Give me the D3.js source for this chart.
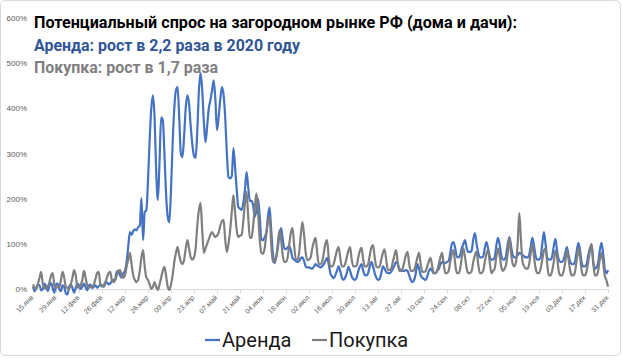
<!DOCTYPE html>
<html>
<head>
<meta charset="utf-8">
<script src="https://cdn.jsdelivr.net/npm/d3@7"></script>
<style>
  body { margin: 0; background: #fff; }
  text { font-family: Roboto, 'Noto Sans', sans-serif; }
</style>
</head>
<body>
<div id="chart"></div>
<script>
// daily values, % growth, 15 Jan .. 31 Dec (one row = one week)
const arenda = [
  5, -5, 3, 10, 8, -3, 0,
  12, 5, -5, 8, 13, 2, -8,
  10, 12, 0, -5, 8, 5, -10,
  -12, 5, 10, 3, -8, 2, 12,
  8, 0, 5, 12, 4, -3, 8,
  10, 2, 5, 8, 3, 6, 10,
  8, 5, 12, 15, 10, 12, 18,
  20, 22, 38, 40, 30, 25, 35,
  40, 60, 95, 126, 120, 128, 132,
  130, 137, 140, 201, 108, 170, 175,
  240, 330, 400, 429, 380, 260, 197,
  280, 380, 375, 300, 210, 160, 148,
  220, 323, 400, 440, 447, 380, 300,
  292, 340, 403, 429, 410, 360, 320,
  295, 290, 350, 440, 478, 440, 370,
  325, 360, 400, 418, 440, 462, 420,
  352, 380, 420, 447, 430, 380, 300,
  248, 245, 250, 312, 270, 220, 181,
  178, 175, 190, 220, 259, 225, 195,
  195, 185, 160, 175, 200, 160, 110,
  108, 115, 125, 160, 181, 130, 80,
  57, 70, 90, 120, 135, 110, 90,
  88, 92, 95, 85, 68, 65, 62,
  60, 62, 68, 70, 62, 50, 48,
  48, 46, 45, 50, 55, 52, 50,
  48, 50, 55, 62, 69, 55, 35,
  28, 24, 30, 40, 50, 40, 25,
  20, 25, 35, 49, 40, 28, 22,
  20, 25, 40, 50, 55, 40, 31,
  30, 35, 50, 60, 50, 35, 25,
  20, 22, 35, 50, 45, 38, 35,
  35, 38, 45, 52, 60, 55, 45,
  42, 40, 40, 42, 40, 30, 20,
  15, 20, 35, 55, 45, 30, 25,
  22, 20, 28, 40, 45, 40, 35,
  35, 40, 45, 55, 60, 58, 58,
  60, 62, 80, 100, 104, 90, 72,
  70, 75, 90, 100, 108, 90, 82,
  82, 85, 110, 124, 100, 80, 70,
  70, 72, 90, 104, 90, 72, 65,
  65, 70, 95, 113, 100, 75, 65,
  65, 75, 100, 115, 95, 75, 70,
  70, 75, 80, 78, 75, 72, 70,
  70, 75, 95, 113, 95, 72, 65,
  65, 70, 100, 126, 100, 70, 65,
  65, 72, 95, 111, 85, 65, 60,
  60, 65, 80, 93, 75, 60, 55,
  55, 62, 85, 102, 85, 58, 50,
  50, 55, 75, 90, 97, 60, 45,
  48, 58, 85, 102, 80, 45, 35,
  42
]

const pokupka = [
  10, 2, 0, 12, 25, 38, 10,
  3, 0, 5, 15, 30, 35, 8,
  2, 5, 3, 20, 38, 25, 5,
  2, 0, 10, 25, 42, 30, 5,
  3, 8, 20, 40, 25, 8, 2,
  5, 5, 10, 22, 35, 38, 10,
  5, 8, 15, 25, 35, 38, 20,
  15, 20, 30, 40, 42, 30, 25,
  30, 50, 65, 80, 55, 30, 20,
  15, 20, 40, 70, 86, 50, 25,
  20, 10, 0, 5, 15, 5, -2,
  10, 25, 40, 49, 30, 5, -2,
  10, 30, 60, 80, 93, 75, 60,
  55, 65, 90, 108, 90, 70, 65,
  70, 90, 140, 175, 190, 130, 80,
  90, 100, 110, 120, 126, 120, 115,
  118, 125, 140, 150, 153, 110, 82,
  100, 130, 170, 208, 170, 130, 115,
  118, 120, 150, 190, 215, 160, 113,
  113, 140, 180, 212, 170, 110, 80,
  78, 90, 120, 150, 160, 100, 60,
  62, 70, 100, 130, 110, 75, 60,
  60, 70, 100, 125, 135, 95, 65,
  65, 80, 120, 148, 120, 80, 64,
  65, 70, 90, 105, 113, 80, 55,
  55, 60, 80, 100, 108, 70, 50,
  50, 55, 70, 85, 93, 70, 50,
  50, 55, 70, 85, 93, 65, 50,
  50, 52, 70, 85, 91, 65, 50,
  50, 55, 75, 92, 97, 70, 50,
  48, 50, 65, 80, 88, 65, 42,
  42, 45, 60, 75, 86, 60, 40,
  40, 45, 60, 75, 82, 55, 40,
  40, 42, 55, 70, 80, 55, 38,
  38, 40, 50, 62, 69, 50, 35,
  35, 40, 55, 70, 80, 55, 35,
  35, 40, 60, 78, 86, 55, 35,
  35, 45, 70, 90, 70, 45, 35,
  35, 40, 60, 75, 82, 55, 35,
  35, 40, 60, 78, 86, 60, 35,
  40, 45, 70, 90, 75, 50, 40,
  45, 55, 80, 113, 80, 55, 50,
  60, 100, 168, 110, 60, 50, 45,
  45, 55, 80, 100, 70, 45, 35,
  35, 45, 65, 85, 90, 55, 30,
  30, 40, 60, 85, 70, 40, 30,
  30, 40, 60, 85, 65, 40, 30,
  30, 40, 65, 90, 70, 40, 30,
  30, 40, 60, 85, 100, 60, 30,
  30, 40, 65, 80, 60, 30, 20,
  5
]

// one label every 14 days
const tickLabels = ['15.янв', '29.янв', '12.фев', '26.фев', '12.мар', '26.мар', '09.апр',
  '23.апр', '07.май', '21.май', '04.июн', '18.июн', '02.июл', '16.июл', '30.июл',
  '13.авг', '27.авг', '10.сен', '24.сен', '08.окт', '22.окт', '05.ноя', '19.ноя',
  '03.дек', '17.дек', '31.дек']
const yTicks = [0, 100, 200, 300, 400, 500, 600]
const seriesNames = ['Аренда', 'Покупка']
const seriesColors = ['#4472c4', '#7f7f7f']
const titleLines = [
  'Потенциальный спрос на загородном рынке РФ (дома и дачи):',
  'Аренда: рост в 2,2 раза в 2020 году',
  'Покупка: рост в 1,7 раза'
]

const W = 623, H = 364
const svg = d3.select('#chart').append('svg')
  .attr('width', W)
  .attr('height', H)

// chart frame
svg.append('rect')
  .attr('x', 0.5).attr('y', 0.5)
  .attr('width', W - 3).attr('height', 355)
  .attr('rx', 5)
  .attr('fill', '#fff')
  .attr('stroke', '#d9d9d9')

const x = d3.scaleLinear().domain([0, arenda.length - 1]).range([33, 608])
const y = d3.scaleLinear().domain([0, 600]).range([289, 18])

// y axis, labels only
const yAxis = svg.append('g')
  .attr('transform', 'translate(27,0)')
  .call(d3.axisLeft(y).tickValues(yTicks).tickFormat(d => d + '%').tickSize(0))
yAxis.select('.domain').remove()
yAxis.selectAll('text')
  .attr('x', 0)
  .attr('fill', '#595959')
  .style('font-size', '8px')
  .style('font-family', "'Liberation Sans', Arial, sans-serif")

// x axis
const xAxis = svg.append('g')
  .attr('transform', 'translate(0,289)')
  .call(d3.axisBottom(x)
    .tickValues(d3.range(0, arenda.length, 14))
    .tickFormat((d, i) => tickLabels[i])
    .tickSize(4)
    .tickSizeOuter(0))
xAxis.select('.domain').attr('stroke', '#d9d9d9')
xAxis.selectAll('line').attr('stroke', '#d9d9d9')
xAxis.selectAll('text')
  .attr('x', -2)
  .attr('y', 0)
  .attr('dy', '0.35em')
  .attr('transform', 'translate(0,6) rotate(-45)')
  .attr('text-anchor', 'end')
  .attr('fill', '#595959')
  .style('font-size', '7px')
  .style('font-family', "'Liberation Sans', Arial, sans-serif")

// lines
const line = d3.line()
  .x((d, i) => x(i))
  .y(d => y(d))
  .curve(d3.curveMonotoneX)

;[arenda, pokupka].forEach((s, k) => {
  svg.append('path')
    .datum(s)
    .attr('fill', 'none')
    .attr('stroke', seriesColors[k])
    .attr('stroke-width', 2.2)
    .attr('stroke-linejoin', 'round')
    .attr('d', line)
})

// title
const titleColors = ['#000', '#2f5597', '#7f7f7f']
const titleWidths = [483, 266, 184]
titleLines.forEach((t, i) => {
  svg.append('text')
    .attr('x', 34)
    .attr('y', 28 + i * 22.5)
    .attr('fill', titleColors[i])
    .attr('font-size', '16px')
    .attr('font-weight', 'bold')
    .attr('textLength', titleWidths[i])
    .attr('lengthAdjust', 'spacingAndGlyphs')
    .text(t)
})

// legend
const legend = svg.append('g').attr('transform', 'translate(205,347)')
const legendX = [0, 107]
seriesNames.forEach((n, i) => {
  const g = legend.append('g').attr('transform', `translate(${legendX[i]},0)`)
  g.append('line')
    .attr('x1', 0).attr('x2', 15)
    .attr('y1', -7).attr('y2', -7)
    .attr('stroke', seriesColors[i])
    .attr('stroke-width', 2.2)
  g.append('text')
    .attr('x', 17)
    .attr('y', 0)
    .attr('fill', '#1a1a1a')
    .attr('font-size', '20px')
    .text(n)
})
</script>
</body>
</html>
